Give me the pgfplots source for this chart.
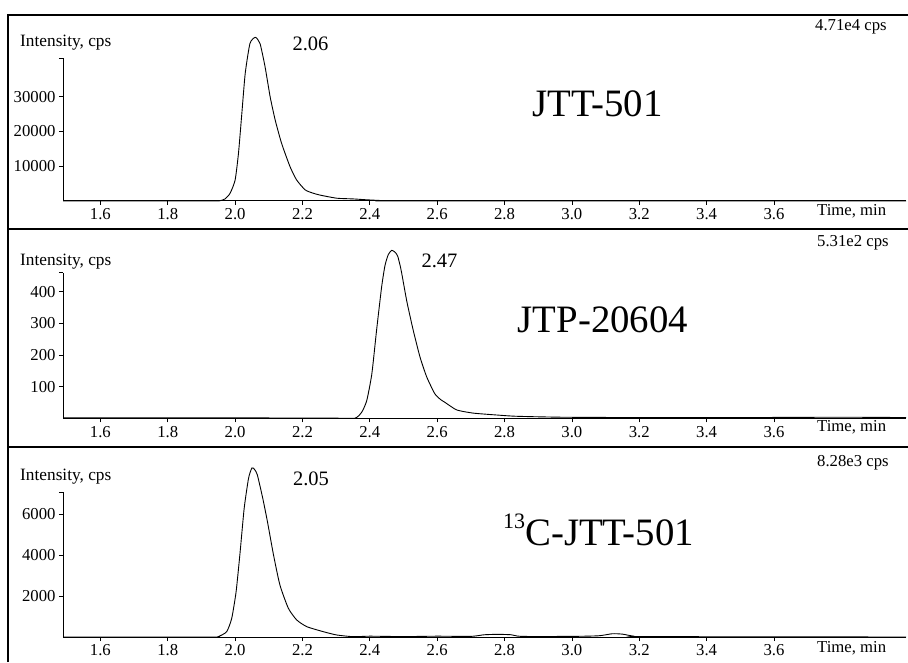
\documentclass[border=0pt]{standalone}
\usepackage{fontspec}
\setmainfont{Liberation Serif}
\usepackage{pgfplots}
\pgfplotsset{compat=1.18}
\newcommand\sm{\fontsize{16.7}{20}\selectfont}
\newcommand\lb{\fontsize{17.3}{20}\selectfont}
\newcommand\pk{\fontsize{20.5}{24}\selectfont}
\newcommand\bg{\fontsize{38.8}{46}\selectfont}

\pgfplotsset{chrom/.style={
  scale only axis, width=843pt, xmin=1.489, xmax=3.992, ymin=0,
  axis x line=bottom, axis y line=left,
  axis line style={-, line width=1pt},
  tick align=outside, major tick length=4pt,
  tick style={line width=0.8pt, black},
  scaled y ticks=false, scaled x ticks=false,
  xtick={1.6,1.8,2.0,2.2,2.4,2.6,2.8,3.0,3.2,3.4,3.6},
  xticklabels={1.6,1.8,2.0,2.2,2.4,2.6,2.8,3.0,3.2,3.4,3.6},
  ticklabel style={font=\sm},
  /pgf/number format/assume math mode=true,
  clip=false, anchor=south west,
}}

\begin{document}
\begin{tikzpicture}
\useasboundingbox (0pt,0pt) rectangle (908pt,662pt);
% frame
\draw[line width=1.3pt] (8pt,0pt) -- (8pt,647pt) -- (908pt,647pt);
\draw[line width=1.3pt] (8pt,433pt) -- (908pt,433pt);
\draw[line width=1.3pt] (8pt,215pt) -- (908pt,215pt);

% Panel 1
\begin{axis}[chrom, at={(63pt,461pt)}, height=142.5pt, ymax=41000,
  ytick={10000,20000,30000,41000}, yticklabels={10000,20000,30000,{}}]
\addplot[black, line width=0.9pt, smooth, tension=0.35] coordinates {
(1.489,0) (1.80,0) (1.94,0) (1.956,100) (1.970,600) (1.985,2200) (2.000,6000)
(2.010,13700) (2.020,25200) (2.030,36700) (2.044,45300) (2.060,47100)
(2.074,45300) (2.089,38600) (2.104,30000) (2.119,23300) (2.138,16600)
(2.163,9900) (2.183,6000) (2.208,3200) (2.230,2300) (2.252,1700) (2.302,800)
(2.350,600) (2.390,350) (2.430,150) (2.460,40) (2.490,0) (3.992,0)};
\end{axis}

% Panel 2
\begin{axis}[chrom, at={(63pt,243.5pt)}, height=145.7pt, ymax=460,
  ytick={100,200,300,400,460}, yticklabels={100,200,300,400,{}}]
\addplot[black, line width=0.9pt, smooth, tension=0.35] coordinates {
(1.489,2) (2.0,2) (2.30,1) (2.356,1) (2.376,20) (2.391,57) (2.406,141)
(2.420,278) (2.435,415) (2.445,483) (2.455,518) (2.465,531) (2.475,525)
(2.483,512) (2.493,468) (2.510,369) (2.529,278) (2.549,194) (2.569,131)
(2.593,78) (2.610,60) (2.623,51) (2.658,27) (2.707,17) (2.777,11) (2.836,7)
(2.973,4) (3.2,3) (3.5,3) (3.8,4) (3.992,3)};
\end{axis}

% Panel 3
\begin{axis}[chrom, at={(63pt,25pt)}, height=145pt, ymax=7100,
  ytick={2000,4000,6000,7100}, yticklabels={2000,4000,6000,{}}]
\addplot[black, line width=0.9pt, smooth, tension=0.35] coordinates {
(1.489,0) (1.93,0) (1.950,20) (1.975,260) (1.990,917) (2.003,2220)
(2.015,4180) (2.027,6310) (2.040,7780) (2.050,8280) (2.058,8200)
(2.066,7940) (2.082,6800) (2.096,5650) (2.114,4020) (2.133,2550)
(2.158,1410) (2.183,833) (2.213,505) (2.262,260) (2.302,98) (2.351,15)
(2.40,40) (2.5,20) (2.6,40) (2.7,30) (2.74,110) (2.78,130) (2.82,110)
(2.85,30) (3.0,30) (3.08,60) (3.12,160) (3.15,140) (3.18,50) (3.22,20)
(3.992,0)};
\end{axis}

% texts
\node[anchor=west, font=\lb, inner sep=0] at (20pt,619pt) {Intensity, cps};
\node[anchor=west, font=\lb, inner sep=0] at (20pt,400pt) {Intensity, cps};
\node[anchor=west, font=\lb, inner sep=0] at (20pt,185pt) {Intensity, cps};
\node[anchor=west, font=\sm, inner sep=0] at (815pt,635pt) {4.71e4 cps};
\node[anchor=west, font=\sm, inner sep=0] at (817pt,419pt) {5.31e2 cps};
\node[anchor=west, font=\sm, inner sep=0] at (817pt,199pt) {8.28e3 cps};
\node[anchor=west, font=\sm, inner sep=0] at (817pt,451pt) {Time, min};
\node[anchor=west, font=\sm, inner sep=0] at (817pt,235pt) {Time, min};
\node[anchor=west, font=\sm, inner sep=0] at (817pt,14pt) {Time, min};
\node[font=\pk, inner sep=0] at (310.5pt,618pt) {2.06};
\node[font=\pk, inner sep=0] at (439.5pt,401pt) {2.47};
\node[font=\pk, inner sep=0] at (311pt,183pt) {2.05};
\node[font=\bg, inner sep=0] at (597.5pt,558pt) {JTT-501};
\node[font=\bg, inner sep=0] at (603pt,342pt) {JTP-20604};
\node[font=\bg, inner sep=0, anchor=base west] at (503pt,117pt) {\raisebox{17pt}{\fontsize{22}{22}\selectfont 13}C-JTT-501};
\end{tikzpicture}
\end{document}
